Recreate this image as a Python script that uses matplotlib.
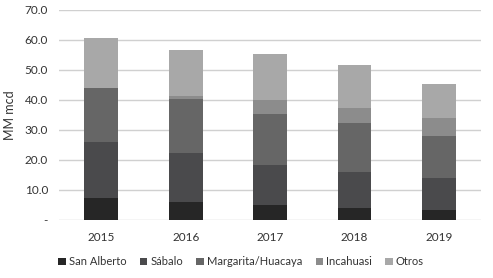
import matplotlib.pyplot as plt
import numpy as np

years = ["2015", "2016", "2017", "2018", "2019"]
san_alberto = [7.3, 6.0, 5.0, 3.9, 3.2]
sabalo = [18.6, 16.2, 13.3, 12.1, 10.6]
margarita = [18.0, 18.0, 17.0, 16.2, 14.2]
incahuasi = [0.0, 1.2, 4.8, 5.0, 6.0]
otros = [16.8, 15.3, 15.1, 14.3, 11.2]

series = [
    ("San Alberto", san_alberto, "#262626"),
    ("Sábalo", sabalo, "#4a4a4c"),
    ("Margarita/Huacaya", margarita, "#666666"),
    ("Incahuasi", incahuasi, "#8c8c8c"),
    ("Otros", otros, "#a8a8a8"),
]

plt.rcParams['font.family'] = ['Lato', 'DejaVu Sans']

fig = plt.figure(figsize=(4.93, 2.78), dpi=100)
ax = fig.add_axes([0.12, 0.209, 0.856, 0.756])

x = np.arange(len(years))
bottom = np.zeros(len(years))
for name, vals, col in series:
    ax.bar(x, vals, 0.4, bottom=bottom, color=col, label=name, zorder=3)
    bottom += np.array(vals)

ax.set_xlim(-0.5, 4.5)
ax.set_ylim(0, 70)
ax.set_yticks(np.arange(0, 71, 10))
ax.set_yticklabels(["-"] + ["%.1f" % v for v in range(10, 71, 10)])
ax.set_xticks(x)
ax.set_xticklabels(years)
ax.grid(axis="y", color="#d0d0d0", linewidth=1, zorder=0)
for s in ax.spines.values():
    s.set_visible(False)
ax.tick_params(length=0, labelsize=8.5, colors="#333333", pad=8)
ax.tick_params(axis="x", pad=9)
ax.set_ylabel("MM mcd", fontsize=9, color="#333333", labelpad=6)

ax.legend(loc="center", bbox_to_anchor=(0.431, -0.2), ncol=5, frameon=False,
          fontsize=8, handlelength=0.7, handleheight=0.7, handletextpad=0.25,
          columnspacing=1.2, labelcolor="#333333", borderaxespad=0)

fig.savefig("out.png", dpi=100)
